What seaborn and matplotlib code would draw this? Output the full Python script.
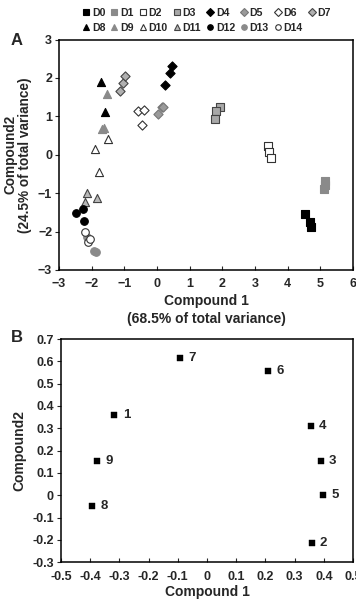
import matplotlib
matplotlib.use("Agg")
import matplotlib.pyplot as plt
import seaborn as sns
import pandas as pd
from matplotlib.lines import Line2D

# ---- Panel A data ----
groups = ["D0", "D1", "D2", "D3", "D4", "D5", "D6", "D7",
          "D8", "D9", "D10", "D11", "D12", "D13", "D14"]
a_group = (["D0"] * 3 + ["D1"] * 3 + ["D2"] * 3 + ["D3"] * 3 + ["D4"] * 3 +
           ["D5"] * 3 + ["D6"] * 3 + ["D7"] * 3 + ["D8"] * 2 + ["D9"] * 3 +
           ["D10"] * 3 + ["D11"] * 3 + ["D12"] * 3 + ["D13"] * 3 + ["D14"] * 3)
a_x = [4.54, 4.67, 4.70,
       5.15, 5.13, 5.12,
       3.38, 3.43, 3.48,
       1.91, 1.81, 1.78,
       0.23, 0.38, 0.46,
       0.04, 0.16, 0.19,
       -0.58, -0.41, -0.47,
       -1.13, -1.03, -0.98,
       -1.71, -1.61,
       -1.52, -1.68, -1.64,
       -1.50, -1.89, -1.78,
       -2.16, -1.85, -2.22,
       -2.47, -2.27, -2.23,
       -2.15, -1.92, -1.86,
       -2.20, -2.12, -2.04]
a_y = [-1.53, -1.75, -1.88,
       -0.67, -0.78, -0.88,
       0.23, 0.08, -0.08,
       1.25, 1.14, 0.93,
       1.81, 2.12, 2.31,
       1.06, 1.25, 1.24,
       1.14, 1.16, 0.77,
       1.66, 1.86, 2.05,
       1.90, 1.12,
       1.58, 0.67, 0.70,
       0.41, 0.15, -0.44,
       -1.00, -1.12, -1.22,
       -1.51, -1.41, -1.73,
       -2.15, -2.51, -2.53,
       -2.00, -2.27, -2.18]

# ---- Panel B data ----
b_label = ["1", "2", "3", "4", "5", "6", "7", "8", "9"]
b_x = [-0.317, 0.358, 0.389, 0.355, 0.398, 0.208, -0.092, -0.393, -0.376]
b_y = [0.359, -0.212, 0.154, 0.311, 0.0, 0.558, 0.616, -0.049, 0.154]

# ---- styles ----
styles = {
    "D0": ("s", "black", "black"),
    "D1": ("s", "#8a8a8a", "#8a8a8a"),
    "D2": ("s", "white", "#333333"),
    "D3": ("s", "#a8a8a8", "#444444"),
    "D4": ("D", "black", "black"),
    "D5": ("D", "#9a9a9a", "#777777"),
    "D6": ("D", "white", "#333333"),
    "D7": ("D", "#b0b0b0", "#444444"),
    "D8": ("^", "black", "black"),
    "D9": ("^", "#8a8a8a", "#8a8a8a"),
    "D10": ("^", "white", "#333333"),
    "D11": ("^", "#b8b8b8", "#444444"),
    "D12": ("o", "black", "black"),
    "D13": ("o", "#8a8a8a", "#8a8a8a"),
    "D14": ("o", "white", "#333333"),
}

sns.set_theme(style="white")
plt.rcParams["font.family"] = ["Liberation Sans", "DejaVu Sans"]
plt.rcParams["font.weight"] = "bold"
plt.rcParams["axes.labelweight"] = "bold"

fig = plt.figure(figsize=(3.56, 6.0), dpi=100)
axA = fig.add_axes([0.166, 0.55, 0.826, 0.384])
axB = fig.add_axes([0.171, 0.063, 0.821, 0.372])

dfA = pd.DataFrame({"group": a_group, "x": a_x, "y": a_y})
for g in groups:
    sub = dfA[dfA["group"] == g]
    m, fc, ec = styles[g]
    sz = 30 if m in ("s", "o") else 34
    if m == "D":
        sz = 22
    sns.scatterplot(data=sub, x="x", y="y", ax=axA, marker=m, color=fc,
                    edgecolor=ec, linewidth=0.8, s=sz, legend=False, zorder=3)

axA.set_xlim(-3, 6)
axA.set_ylim(-3, 3)
axA.set_xticks(range(-3, 7))
axA.set_yticks(range(-3, 4))
axA.set_xlabel("Compound 1\n(68.5% of total variance)", fontsize=10,
               fontweight="bold", labelpad=3, linespacing=1.3)
axA.set_ylabel("Compound2\n(24.5% of total variance)", fontsize=9.8,
               fontweight="bold", labelpad=4, linespacing=1.05)

dfB = pd.DataFrame({"label": b_label, "x": b_x, "y": b_y})
sns.scatterplot(data=dfB, x="x", y="y", ax=axB, marker="s", color="black",
                edgecolor="black", s=14, legend=False, zorder=3)
for lab, xx, yy in zip(b_label, b_x, b_y):
    axB.annotate(lab, (xx, yy), xytext=(6, 0), textcoords="offset points",
                 va="center", ha="left", fontsize=9.5, fontweight="bold")
axB.set_xlim(-0.5, 0.5)
axB.set_ylim(-0.3, 0.7)
xt = [-0.5, -0.4, -0.3, -0.2, -0.1, 0, 0.1, 0.2, 0.3, 0.4, 0.5]
yt = [-0.3, -0.2, -0.1, 0, 0.1, 0.2, 0.3, 0.4, 0.5, 0.6, 0.7]
axB.set_xticks(xt)
axB.set_xticklabels([("%g" % v) for v in xt])
axB.set_yticks(yt)
axB.set_yticklabels([("%g" % v) for v in yt])
axB.set_xlabel("Compound 1", fontsize=10, fontweight="bold", labelpad=2)
axB.set_ylabel("Compound2", fontsize=10, fontweight="bold", labelpad=4)

for ax in (axA, axB):
    for sp in ax.spines.values():
        sp.set_visible(True)
        sp.set_color("black")
        sp.set_linewidth(1.1)
    ax.tick_params(axis="x", direction="in", length=3, width=0.8,
                   labelsize=9, pad=6, bottom=True)
    ax.tick_params(axis="y", direction="out", length=3, width=0.8,
                   labelsize=9, pad=2, left=True)
    for t in ax.get_xticklabels() + ax.get_yticklabels():
        t.set_fontweight("bold")
    ax.grid(False)

fig.text(0.03, 0.925, "A", fontsize=12, fontweight="bold")
fig.text(0.03, 0.43, "B", fontsize=12, fontweight="bold")

# legend: interleave so that column-major layout reads row-wise
order = []
row1 = groups[:8]
row2 = groups[8:]
for i in range(8):
    order.append(row1[i])
    if i < len(row2):
        order.append(row2[i])
handles = []
for g in order:
    m, fc, ec = styles[g]
    handles.append(Line2D([], [], linestyle="none", marker=m, markersize=4,
                          markerfacecolor=fc, markeredgecolor=ec,
                          markeredgewidth=0.8, label=g))
fig.legend(handles=handles, labels=order, ncol=8, loc="upper center",
           bbox_to_anchor=(0.58, 1.0), frameon=False,
           handletextpad=0.15, columnspacing=0.45, handlelength=0.8,
           borderpad=0.25, labelspacing=0.45, prop={"weight": "bold", "size": 7.6})

fig.savefig("out.png", dpi=100)
